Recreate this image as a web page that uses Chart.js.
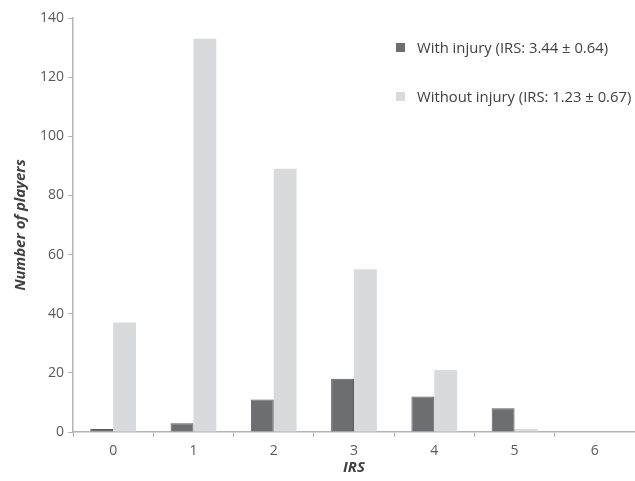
<!DOCTYPE html>
<html>
<head>
<meta charset="utf-8">
<script src="https://cdn.jsdelivr.net/npm/chart.js@4/dist/chart.umd.min.js"></script>
<style>
  body { margin: 0; background: #fff; }
  #wrap { position: relative; width: 635px; height: 481px; }
  #legend { position: absolute; left: 396px; top: 37px; font-family: "Open Sans", sans-serif; font-size: 14.8px; color: #404040; }
  #legend div { height: 49px; display: flex; align-items: flex-start; }
  #legend span.box { display: inline-block; width: 9px; height: 9px; margin: 6px 12px 0 0; }
</style>
</head>
<body>
<div id="wrap">
  <canvas id="myChart" width="635" height="481"></canvas>
  <div id="legend"></div>
</div>
<script>
// IRS distribution

var categories = ['0', '1', '2', '3', '4', '5', '6'];
var withInjury = [1, 3, 11, 18, 12, 8, 0];
var withoutInjury = [37, 133, 89, 55, 21, 1, 0];
var seriesLabels = ['With injury (IRS: 3.44 \u00b1 0.64)', 'Without injury (IRS: 1.23 \u00b1 0.67)'];
var seriesColors = ['#6d6e71', '#d9dadb'];

var axisColor = '#b4b4b4';
var tickColor = '#595959';

new Chart("myChart", {
    type: "bar",
    data: {
        labels: categories,
        datasets: [{
            label: seriesLabels[0],
            data: withInjury,
            backgroundColor: seriesColors[0],
            borderColor: '#5a5b5e',
            borderWidth: 1
        }, {
            label: seriesLabels[1],
            data: withoutInjury,
            backgroundColor: seriesColors[1],
            borderWidth: 0
        }]
    },
    options: {
        responsive: false,
        animation: false,
        layout: { padding: { top: 18, right: 0, left: 0, bottom: 0 } },
        plugins: {
            legend: { display: false },
            tooltip: { enabled: false }
        },
        datasets: {
            bar: { barPercentage: 1, categoryPercentage: 0.57 }
        },
        scales: {
            x: {
                grid: { drawOnChartArea: false, color: axisColor, tickLength: 5 },
                border: { color: axisColor, width: 1.5 },
                ticks: { color: tickColor, font: { family: 'Open Sans', size: 14 }, padding: 6 },
                title: {
                    display: true, text: 'IRS', color: '#404040',
                    font: { family: 'Open Sans', size: 15, style: 'italic', weight: 'bold' },
                    padding: { top: 2 }
                },
                afterFit: function (scale) { scale.height = 49; }
            },
            y: {
                min: 0,
                max: 140,
                ticks: { stepSize: 20, color: tickColor, font: { family: 'Open Sans', size: 14 }, padding: 4 },
                grid: { drawOnChartArea: false, color: axisColor, tickLength: 5 },
                border: { color: axisColor, width: 1.5 },
                title: {
                    display: true, text: 'Number of players', color: '#404040',
                    font: { family: 'Open Sans', size: 15, style: 'italic', weight: 'bold' },
                    padding: { top: 12, bottom: 4 }
                },
                afterFit: function (scale) { scale.width = 73; }
            }
        }
    }
});

var legend = document.getElementById('legend');
seriesLabels.forEach(function (txt, i) {
    var row = document.createElement('div');
    var box = document.createElement('span');
    box.className = 'box';
    box.style.background = seriesColors[i];
    row.appendChild(box);
    row.appendChild(document.createTextNode(txt));
    legend.appendChild(row);
});
</script>
</body>
</html>
